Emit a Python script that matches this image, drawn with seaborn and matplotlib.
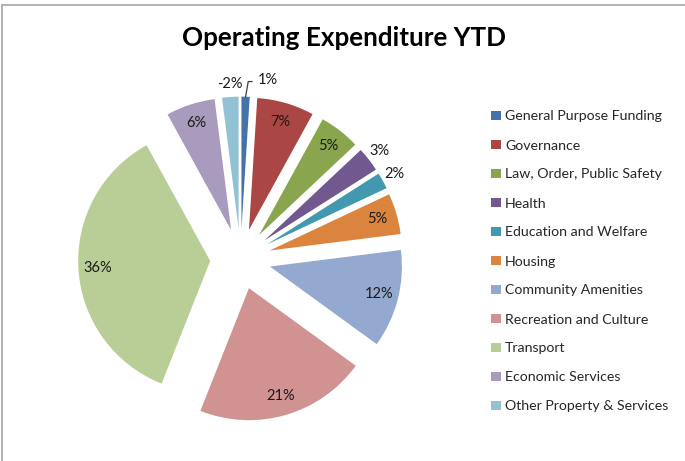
import numpy as np
import matplotlib
matplotlib.use("Agg")
import matplotlib.pyplot as plt
import seaborn as sns

# 数据
categories = ['General Purpose Funding', 'Governance', 'Law, Order, Public Safety',
              'Health', 'Education and Welfare', 'Housing', 'Community Amenities',
              'Recreation and Culture', 'Transport', 'Economic Services',
              'Other Property & Services']
pct_values = [1, 7, 5, 3, 2, 5, 12, 21, 36, 6, -2]
colors = ['#4572A7', '#AA4643', '#89A54E', '#71588F', '#4198AF', '#DB843D',
          '#93A9CF', '#D19392', '#B9CD96', '#A99BBD', '#92C3D5']

sns.set_theme(style="white")
plt.rcParams['font.family'] = ['Lato', 'DejaVu Sans']

W, H = 685, 461
fig = plt.figure(figsize=(W / 100, H / 100), dpi=100)

# 饼图区域（单位半径 = 132 px）
cx, cy, R = 240.5, 259, 132
lim = 1.45
half = lim * R
ax = fig.add_axes([(cx - half) / W, (H - cy - half) / H, 2 * half / W, 2 * half / H])

sizes = np.abs(pct_values)
wedges, _ = ax.pie(sizes, colors=colors, startangle=90, counterclock=False,
                   explode=[0.23] * len(sizes), radius=1,
                   wedgeprops=dict(linewidth=0))
ax.set_xlim(-lim, lim)
ax.set_ylim(-lim, lim)
ax.set_aspect('equal')
ax.axis('off')

# 数据标签
lab_fs = 10.5
for w, v in zip(wedges, pct_values):
    mid = np.deg2rad((w.theta1 + w.theta2) / 2)
    ux, uy = np.cos(mid), np.sin(mid)
    x0, y0 = w.center
    txt = f"{v}%"
    if abs(v) == 1:
        # 带引导线
        px, py = x0 + ux, y0 + uy
        ax.plot([px, px + 0.02, px + 0.05], [py, py + 0.115, py + 0.115],
                color='#404040', lw=0.9, clip_on=False)
        ax.text(px + 0.09, py + 0.13, txt, ha='left', va='center',
                fontsize=lab_fs, color='#1a1a1a')
    elif abs(v) < 4:
        ax.text(x0 + 1.10 * ux, y0 + 1.10 * uy, txt, ha='center', va='center',
                fontsize=lab_fs, color='#1a1a1a')
    else:
        ax.text(x0 + 0.85 * ux, y0 + 0.85 * uy, txt, ha='center', va='center',
                fontsize=lab_fs, color='#1a1a1a')

# 标题
fig.text(344 / W, 1 - 38 / H, 'Operating Expenditure YTD', ha='center', va='center',
         fontsize=18.7, fontweight='bold', color='black')

# 图例
fig.legend(wedges, categories, loc='upper left',
           bbox_to_anchor=(491 / W, 1 - 110.5 / H), frameon=False,
           fontsize=10.2, handlelength=0.7, handleheight=0.7, handletextpad=0.3,
           labelspacing=1.2, borderpad=0, borderaxespad=0)

# 外框
frame_c = '#a6a6a6'
fig.add_artist(plt.Line2D([1.5 / W, 1.5 / W], [0, 1 - 5.5 / H],
                          transform=fig.transFigure, color=frame_c, lw=1.2))
fig.add_artist(plt.Line2D([1.5 / W, 1], [1 - 5.5 / H, 1 - 5.5 / H],
                          transform=fig.transFigure, color=frame_c, lw=1.2))

plt.savefig('out.png', dpi=100)
